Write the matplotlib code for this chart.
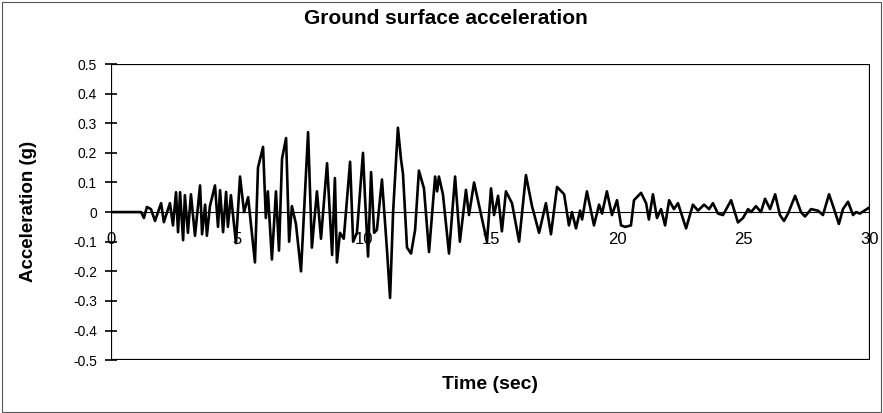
import matplotlib.pyplot as plt
from matplotlib.patches import Rectangle

plt.rcParams['font.family'] = ['Liberation Sans', 'DejaVu Sans']

# peaks and troughs (time in s, acceleration in g)
time_s = [0, 1.19, 1.30, 1.42, 1.58, 1.74, 1.98, 2.09, 2.33, 2.45, 2.57, 2.65,
          2.73, 2.85, 2.92, 3.04, 3.16, 3.32, 3.44, 3.52, 3.60, 3.72, 3.79, 3.91,
          4.11, 4.23, 4.31, 4.43, 4.55, 4.62, 4.74, 4.94, 5.10, 5.26, 5.42, 5.69,
          5.81, 6.01, 6.12, 6.20, 6.36, 6.52, 6.64, 6.76, 6.92, 7.04, 7.15, 7.31,
          7.51, 7.79, 7.94, 8.14, 8.30, 8.54, 8.74, 8.85, 8.93, 9.05, 9.20, 9.45,
          9.57, 9.72, 9.96, 10.04, 10.16, 10.28, 10.40, 10.51, 10.71, 10.91, 11.03,
          11.15, 11.34, 11.46, 11.54, 11.70, 11.86, 12.02, 12.17, 12.37, 12.57,
          12.81, 12.89, 12.96, 13.12, 13.36, 13.60, 13.79, 14.03, 14.15, 14.35,
          14.58, 14.86, 15.02, 15.14, 15.30, 15.45, 15.61, 15.85, 16.13, 16.40,
          16.64, 16.92, 17.19, 17.39, 17.63, 17.91, 18.10, 18.22, 18.38, 18.54,
          18.62, 18.81, 19.09, 19.29, 19.41, 19.60, 19.80, 20.00, 20.16, 20.32,
          20.55, 20.67, 20.95, 21.15, 21.26, 21.42, 21.58, 21.74, 21.90, 22.06,
          22.25, 22.41, 22.73, 23.00, 23.20, 23.44, 23.64, 23.79, 23.99, 24.19,
          24.51, 24.78, 24.98, 25.18, 25.30, 25.49, 25.69, 25.85, 26.05, 26.25,
          26.44, 26.60, 26.76, 27.04, 27.27, 27.43, 27.67, 27.94, 28.14, 28.38,
          28.54, 28.77, 28.93, 29.13, 29.33, 29.45, 29.60, 29.96, 30.0]
accel_g = [0, 0, -0.02, 0.017, 0.01, -0.03, 0.03, -0.034, 0.03, -0.045, 0.067, -0.068,
           0.067, -0.095, 0.057, -0.07, 0.06, -0.08, 0.02, 0.09, -0.075, 0.025, -0.08, 0.02,
           0.09, -0.05, 0.074, -0.068, 0.068, -0.05, 0.057, -0.105, 0.12, 0.0, 0.05, -0.17,
           0.15, 0.22, -0.02, 0.07, -0.16, 0.07, -0.13, 0.18, 0.25, -0.10, 0.02, -0.04,
           -0.20, 0.27, -0.12, 0.07, -0.09, 0.165, -0.145, 0.115, -0.17, -0.07, -0.09, 0.17,
           -0.10, -0.07, 0.20, 0.05, -0.15, 0.135, -0.07, -0.06, 0.11, -0.13, -0.29,
           0.0, 0.285, 0.18, 0.13, -0.12, -0.14, -0.06, 0.14, 0.08, -0.135,
           0.12, 0.07, 0.12, 0.06, -0.14, 0.12, -0.10, 0.075, -0.01, 0.10,
           0.01, -0.10, 0.08, -0.01, 0.055, -0.065, 0.07, 0.03, -0.10, 0.125,
           0.02, -0.07, 0.03, -0.075, 0.085, 0.06, -0.045, 0.0, -0.055, 0.005,
           -0.025, 0.07, -0.045, 0.025, -0.005, 0.07, -0.01, 0.04, -0.045, -0.05,
           -0.045, 0.04, 0.065, 0.03, -0.025, 0.06, -0.02, 0.01, -0.045, 0.04,
           0.01, 0.03, -0.055, 0.025, 0.005, 0.025, 0.01, 0.03, -0.005, -0.01,
           0.04, -0.035, -0.02, 0.01, 0.0, 0.02, 0.0, 0.045, 0.01, 0.06,
           -0.01, -0.03, -0.005, 0.055, 0.0, -0.015, 0.01, 0.005, -0.01, 0.06,
           0.02, -0.04, 0.01, 0.035, -0.01, 0.0, -0.005, 0.015, 0.01]

x_ticks = [0, 5, 10, 15, 20, 25, 30]
y_ticks = [0.5, 0.4, 0.3, 0.2, 0.1, 0, -0.1, -0.2, -0.3, -0.4, -0.5]
y_tick_labels = ['0.5', '0.4', '0.3', '0.2', '0.1', '0', '-0.1', '-0.2', '-0.3', '-0.4', '-0.5']

fig = plt.figure(figsize=(8.83, 4.13), dpi=100)
ax = fig.add_axes([0.1257, 0.128, 0.8596, 0.717])

ax.plot(time_s, accel_g, color='black', linewidth=1.9, solid_joinstyle='round')
ax.axhline(0, color='black', linewidth=0.8, zorder=1)

ax.set_xlim(0, 30)
ax.set_ylim(-0.5, 0.5)

# x axis sits on the zero line, like the Excel chart
for side in ['top', 'right', 'bottom', 'left']:
    ax.spines[side].set_visible(False)
ax.add_patch(Rectangle((0, 0), 1, 1, transform=ax.transAxes, fill=False,
                       edgecolor='black', linewidth=1.6, zorder=3))

ax.set_xticks(x_ticks)
ax.set_xticklabels([str(v) for v in x_ticks])
ax.xaxis.set_ticks_position('bottom')
ax.spines['bottom'].set_position(('data', 0))
ax.tick_params(axis='x', length=0, pad=14, labelsize=12)
ax.set_yticks(y_ticks)
ax.set_yticklabels(y_tick_labels)
ax.tick_params(axis='y', direction='inout', length=8, width=1.2, pad=6, labelsize=10)

fig.text(0.505, 0.955, 'Ground surface acceleration', ha='center', va='center',
         fontsize=15, fontweight='bold')
fig.text(0.555, 0.068, 'Time (sec)', ha='center', va='center',
         fontsize=14, fontweight='bold')
fig.text(0.032, 0.487, 'Acceleration (g)', ha='center', va='center',
         rotation=90, fontsize=13.5, fontweight='bold')

# thin chart-area border
fig.add_artist(Rectangle((0.002, 0.002), 0.996, 0.993, transform=fig.transFigure,
                         fill=False, edgecolor='#555555', linewidth=0.8))

fig.savefig('out.png', dpi=100)
